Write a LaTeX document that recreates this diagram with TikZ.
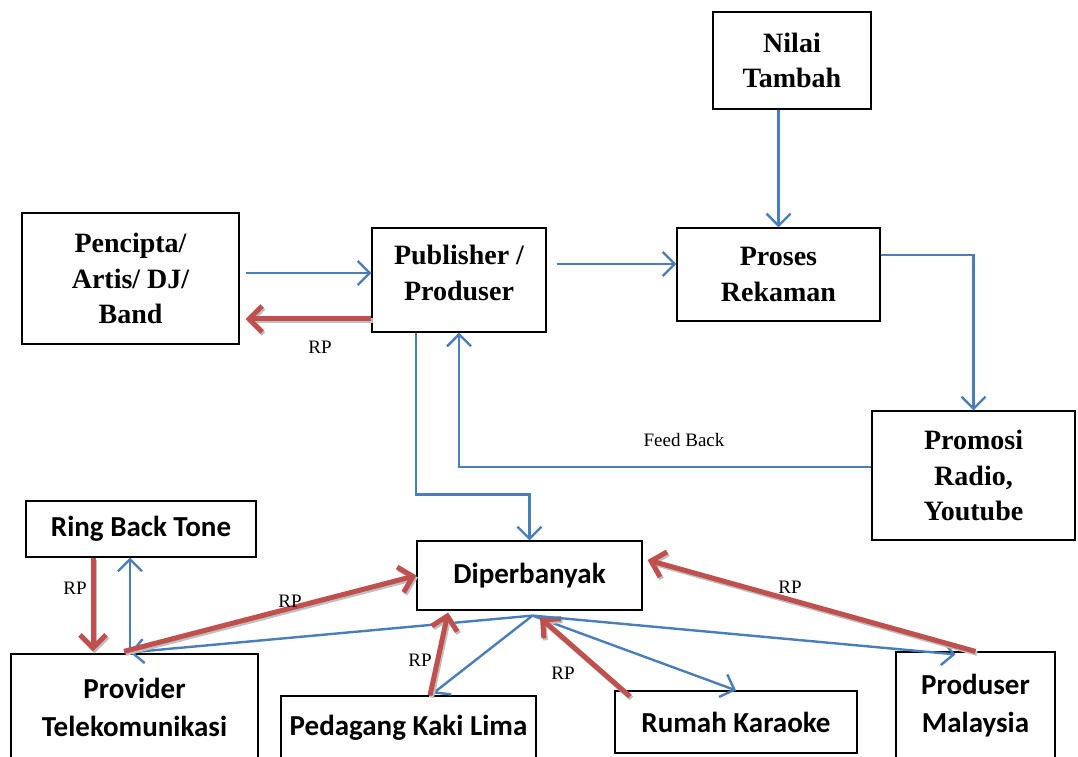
\documentclass[tikz,border=0pt]{standalone}
\usepackage{fontspec}
\setmainfont{Liberation Serif}
\newfontfamily\calfont{Carlito}
\usetikzlibrary{arrows.meta}
\definecolor{cblue}{HTML}{4A7EBB}
\definecolor{cred}{HTML}{C0504D}
\begin{document}
\begin{tikzpicture}[x=1pt,y=1pt,
 tbox/.style={draw, line width=1.2pt, align=center, inner sep=0pt, font=\bfseries\fontsize{28}{35.5}\selectfont},
 ttext/.style={align=center, inner sep=0pt, font=\bfseries\fontsize{28}{35.5}\selectfont},
 cbox/.style={draw, line width=1.2pt, align=center, inner sep=0pt, font=\calfont\bfseries\fontsize{29}{38}\selectfont},
 bl/.style={draw=cblue, line width=2.4pt, -{Straight Barb[length=12pt,width=24pt]}},
 rd/.style={draw=cred, line width=5pt, -{Straight Barb[length=13pt,width=26pt]},
   preaction={draw=black!25, line width=5pt, transform canvas={shift={(1.5pt,-2pt)}}}},
 lab/.style={font=\fontsize{19}{22}\selectfont, inner sep=0pt}]
\useasboundingbox (0,0) rectangle (1078,756);
\fill[white] (0,0) rectangle (1078,756);

% nodes
\node[tbox, minimum width=158, minimum height=97] (nilai) at (792,695.5) {Nilai\\Tambah};
\node[tbox, minimum width=217, minimum height=131] (penc) at (130.5,477.5) {Pencipta/\\Artis/ DJ/\\Band};
\node[tbox, minimum width=174, minimum height=104] (pub) at (459,476) {};
\node[ttext] (pubtext) at ([yshift=7]pub.center) {Publisher /\\Produser};
\node[tbox, minimum width=203, minimum height=93] (proses) at (778.5,481.5) {Proses\\Rekaman};
\node[tbox, minimum width=203, minimum height=129] (promo) at (973.5,280.5) {Promosi\\Radio,\\Youtube};
\node[cbox, minimum width=230, minimum height=56] (rbt) at (141,227) {Ring Back Tone};
\node[cbox, minimum width=225, minimum height=69] (dip) at (529.5,180.5) {Diperbanyak};
\node[cbox, minimum width=247, minimum height=106] (prov) at (134.5,49) {Provider\\Telekomunikasi};
\node[cbox, minimum width=255, minimum height=64] (ped) at (408.5,28) {Pedagang Kaki Lima};
\node[cbox, minimum width=242, minimum height=62] (rumah) at (736,34) {Rumah Karaoke};
\node[cbox, minimum width=159, minimum height=108] (prodm) at (975.5,50) {Produser\\Malaysia};

\coordinate (hub) at ([shift={(3,-5)}]dip.south);

% upper connectors
\draw[bl] (proses.north |- nilai.south) -- (proses.north);
\draw[bl] ([xshift=6,yshift=5.5]penc.east) -- ([yshift=7]pub.west);
\draw[rd] ([yshift=-39]pub.west) -- ([xshift=6,yshift=-40.5]penc.east);
\node[lab] (rp1) at (320,409) {RP};
\draw[bl] ([xshift=10,yshift=16]pub.east) -- ([yshift=10.5]proses.west);
\draw[bl] ([yshift=19.5]proses.east) -| (promo.north);
\draw[bl] ([yshift=8.5]promo.west) -| (pub.south);
\node[lab] (fb) at (684,316) {Feed Back};
\draw[bl] ([xshift=-43]pub.south) |- ([yshift=46]dip.north) -- (dip.north);

% lower connectors
\draw[rd] ([xshift=-48]rbt.south) -- ([xshift=-41.5,yshift=2]prov.north);
\node[lab] (rp2) at (75,168) {RP};
\draw[bl] ([xshift=-4.5,yshift=3]prov.north) -- ([xshift=-11]rbt.south);
\draw[bl] (hub) -- ([xshift=-4.5,yshift=1]prov.north);
\draw[rd] ([xshift=-10.5,yshift=2]prov.north) -- (dip.west);
\node[lab] (rp3) at (290,155) {RP};
\draw[bl] (hub) -- ([xshift=24.5,yshift=2]ped.north);
\draw[rd] ([xshift=21.5]ped.north) -- ([xshift=-81.5,yshift=-2]dip.south);
\node[lab] (rp4) at (420,96) {RP};
\draw[bl] (hub) -- (rumah.north);
\draw[rd] ([xshift=-106,yshift=-6]rumah.north) -- ([xshift=10.5,yshift=-7]dip.south);
\node[lab] (rp5) at (563,83) {RP};
\draw[bl] (hub) -- ([xshift=-20,yshift=-3]prodm.north);
\draw[rd] (prodm.north) -- ([xshift=5,yshift=15.5]dip.east);
\node[lab] (rp6) at (790,169) {RP};
\end{tikzpicture}
\end{document}
